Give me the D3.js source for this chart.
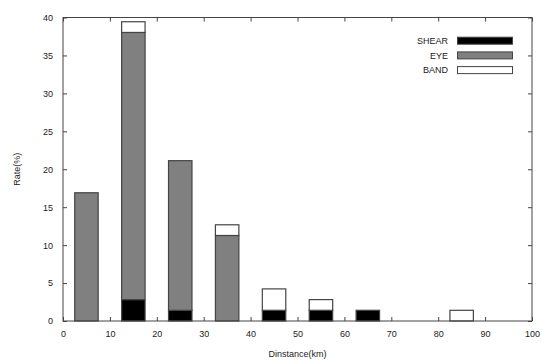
<!DOCTYPE html>
<html>
<head>
<meta charset="utf-8">
<script src="https://cdn.jsdelivr.net/npm/d3@7"></script>
<style>
  body { margin: 0; background: #fff; }
  text { font-family: "Liberation Sans", Arial, sans-serif; fill: #222; }
</style>
</head>
<body>
<svg width="542" height="361"></svg>
<script>
// distance bin centres (km) and stacked rates (%)
const centers = [5, 15, 25, 35, 45, 55, 65, 75, 85, 95];
const shear   = [0, 2.82, 1.41, 0, 1.41, 1.41, 1.41, 0, 0, 0];
const eye     = [16.90, 35.21, 19.72, 11.27, 0, 0, 0, 0, 0, 0];
const band    = [0, 1.41, 0, 1.41, 2.82, 1.41, 0, 0, 1.41, 0];
const seriesNames = ['SHEAR', 'EYE', 'BAND'];
const seriesColors = ['#000000', '#808080', '#ffffff'];
const xTicks = [0, 10, 20, 30, 40, 50, 60, 70, 80, 90, 100];
const yTicks = [0, 5, 10, 15, 20, 25, 30, 35, 40];

const svg = d3.select('svg');
const margin = {left: 63, right: 10, top: 17.5, bottom: 40};
const width = 542, height = 361;

const x = d3.scaleLinear().domain([0, 100]).range([margin.left, width - margin.right]);
const y = d3.scaleLinear().domain([0, 40]).range([height - margin.bottom, margin.top]);

const rows = centers.map((c, i) => ({c: c, SHEAR: shear[i], EYE: eye[i], BAND: band[i]}));
const stacked = d3.stack().keys(seriesNames)(rows);

const g = svg.append('g');

// bars
stacked.forEach((layer, k) => {
  g.selectAll(null).data(layer.filter(d => d[1] - d[0] > 0))
    .enter().append('rect')
      .attr('x', d => x(d.data.c - 2.5))
      .attr('width', d => x(d.data.c + 2.5) - x(d.data.c - 2.5))
      .attr('y', d => y(d[1]))
      .attr('height', d => y(d[0]) - y(d[1]))
      .attr('fill', seriesColors[k])
      .attr('stroke', '#444')
      .attr('stroke-width', 1.2);
});

// frame
g.append('rect')
  .attr('x', x(0)).attr('y', y(40))
  .attr('width', x(100) - x(0)).attr('height', y(0) - y(40))
  .attr('fill', 'none').attr('stroke', '#444').attr('stroke-width', 1);

// axes with inward ticks
const axBottom = g.append('g').attr('transform', `translate(0,${y(0)})`)
  .call(d3.axisBottom(x).tickValues(xTicks).tickSize(-4).tickPadding(10));
const axTop = g.append('g').attr('transform', `translate(0,${y(40)})`)
  .call(d3.axisTop(x).tickValues(xTicks).tickSize(-4).tickFormat(''));
const axLeft = g.append('g').attr('transform', `translate(${x(0)},0)`)
  .call(d3.axisLeft(y).tickValues(yTicks).tickSize(-4).tickPadding(10));
const axRight = g.append('g').attr('transform', `translate(${x(100)},0)`)
  .call(d3.axisRight(y).tickValues(yTicks).tickSize(-4).tickFormat(''));

[axBottom, axTop, axLeft, axRight].forEach(a => {
  a.select('.domain').remove();
  a.selectAll('line').attr('stroke', '#444');
  a.selectAll('text').attr('font-size', 9).attr('fill', '#222')
    .attr('font-family', '"Liberation Sans", Arial, sans-serif');
});

// axis titles
svg.append('text')
  .attr('x', (x(0) + x(100)) / 2).attr('y', 357)
  .attr('text-anchor', 'middle').attr('font-size', 9)
  .text('Dinstance(km)');
svg.append('text')
  .attr('transform', `translate(20,${(y(0) + y(40)) / 2}) rotate(-90)`)
  .attr('text-anchor', 'middle').attr('font-size', 9)
  .text('Rate(%)');

// legend
const legend = svg.append('g');
seriesNames.forEach((name, i) => {
  const cy = 40.7 + i * 14.7;
  legend.append('text')
    .attr('x', 448).attr('y', cy + 3.2)
    .attr('text-anchor', 'end').attr('font-size', 9)
    .text(name);
  legend.append('rect')
    .attr('x', 457.5).attr('y', cy - 3.5)
    .attr('width', 55).attr('height', 7)
    .attr('fill', seriesColors[i])
    .attr('stroke', '#444').attr('stroke-width', 1);
});
</script>
</body>
</html>
